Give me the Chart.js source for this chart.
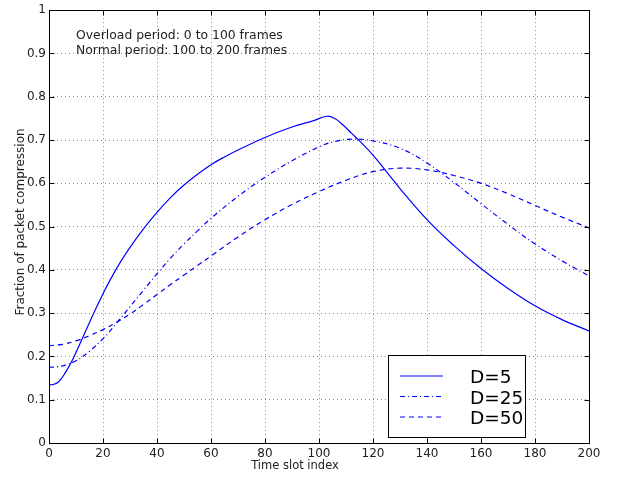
<!DOCTYPE html>
<html><head><meta charset="utf-8">
<script src="https://cdn.jsdelivr.net/npm/chart.js@4/dist/chart.umd.min.js"></script>
<style>html,body{margin:0;padding:0;background:#fff}#wrap{width:617px;height:477px;position:relative}canvas{display:block}</style>
</head><body><div id="wrap"><canvas id="c" width="617" height="477"></canvas></div>
<script>
const xTicks = [0,20,40,60,80,100,120,140,160,180,200];
const yTicks = [0,0.1,0.2,0.3,0.4,0.5,0.6,0.7,0.8,0.9,1];
const seriesNames = ['D=5','D=25','D=50'];

const d5x = [0,1.5,3.5,6,9,12,16,20,25,30,35,40,45,50,55,60,65,70,80,90,98,103,106,109,112,115,120,130,140,150,160,170,180,190,200];
const d5y = [0.135,0.135,0.141,0.162,0.196,0.237,0.292,0.345,0.403,0.452,0.495,0.533,0.567,0.596,0.621,0.643,0.661,0.677,0.706,0.730,0.745,0.755,0.749,0.734,0.716,0.698,0.665,0.588,0.516,0.456,0.403,0.357,0.317,0.285,0.259];

const d25x = [0,3,6,10,15,20,25,30,35,40,45,50,55,60,70,80,90,100,106,113,120,130,140,150,160,170,180,190,200];
const d25y = [0.175,0.176,0.180,0.190,0.212,0.241,0.277,0.315,0.353,0.391,0.427,0.460,0.490,0.519,0.570,0.614,0.652,0.684,0.697,0.702,0.698,0.681,0.647,0.602,0.553,0.505,0.460,0.421,0.386];

const d50x = [0,5,10,15,20,25,30,35,40,45,50,55,60,70,80,90,100,110,120,130,140,150,160,170,180,190,200];
const d50y = [0.225,0.228,0.236,0.248,0.262,0.279,0.298,0.320,0.343,0.366,0.388,0.410,0.432,0.476,0.516,0.551,0.581,0.607,0.627,0.635,0.631,0.618,0.600,0.576,0.549,0.522,0.497];

const pts = (xs, ys) => xs.map((x, i) => ({x, y: ys[i]}));
const BLUE = '#0000ff';
const styles = [[], [5,3,1,3], [5,4]];
const FONT = '"DejaVu Sans", Verdana, sans-serif';

const framePlugin = {
  id: 'frame',
  afterDraw(chart) {
    const {ctx, chartArea: a, scales} = chart;
    const L = Math.round(a.left) + 0.5, R = Math.round(a.right) + 0.5;
    const T = Math.round(a.top) + 0.5, B = Math.round(a.bottom) + 0.5;
    ctx.save();
    ctx.strokeStyle = '#000';
    ctx.lineWidth = 1;
    ctx.setLineDash([]);
    ctx.strokeRect(L, T, R - L, B - T);
    const tl = 5;
    ctx.beginPath();
    xTicks.forEach(v => {
      const px = Math.round(scales.x.getPixelForValue(v)) + 0.5;
      ctx.moveTo(px, B); ctx.lineTo(px, B - tl);
      ctx.moveTo(px, T); ctx.lineTo(px, T + tl);
    });
    yTicks.forEach(v => {
      const py = Math.round(scales.y.getPixelForValue(v)) + 0.5;
      ctx.moveTo(L, py); ctx.lineTo(L + tl, py);
      ctx.moveTo(R, py); ctx.lineTo(R - tl, py);
    });
    ctx.stroke();

    // annotation text
    ctx.fillStyle = '#222';
    ctx.font = '12.4px ' + FONT;
    ctx.textAlign = 'left';
    ctx.textBaseline = 'alphabetic';
    ctx.fillText('Overload period: 0 to 100 frames', 76, 38.5);
    ctx.fillText('Normal period: 100 to 200 frames', 76, 54);

    // axis titles
    ctx.font = '11.5px ' + FONT;
    ctx.textAlign = 'center';
    ctx.fillText('Time slot index', 295, 468.5);
    ctx.font = '12px ' + FONT;
    ctx.save();
    ctx.translate(24, 222);
    ctx.rotate(-Math.PI / 2);
    ctx.fillText('Fraction of packet compression', 0, 0);
    ctx.restore();

    // legend
    const bx = 388.5, by = 355.5, bw = 137, bh = 82;
    ctx.fillStyle = '#fff';
    ctx.fillRect(bx, by, bw, bh);
    ctx.strokeStyle = '#000';
    ctx.strokeRect(bx, by, bw, bh);
    const rows = [376, 396.5, 417];
    ctx.font = '18.5px ' + FONT;
    ctx.textAlign = 'left';
    seriesNames.forEach((name, i) => {
      ctx.strokeStyle = BLUE;
      ctx.lineWidth = 1.2;
      ctx.setLineDash(styles[i]);
      ctx.beginPath();
      ctx.moveTo(400, rows[i]); ctx.lineTo(443, rows[i]);
      ctx.stroke();
      ctx.setLineDash([]);
      ctx.fillStyle = '#000';
      ctx.fillText(name, 470, rows[i] + 7);
    });
    ctx.restore();
  }
};

const tickFont = {family: FONT, size: 12};

new Chart(document.getElementById('c'), {
  type: 'line',
  data: {
    datasets: [
      {label: seriesNames[0], data: pts(d5x, d5y), borderDash: styles[0]},
      {label: seriesNames[1], data: pts(d25x, d25y), borderDash: styles[1]},
      {label: seriesNames[2], data: pts(d50x, d50y), borderDash: styles[2]}
    ].map(d => Object.assign(d, {borderColor: BLUE, borderWidth: 1.2, pointRadius: 0, fill: false, tension: 0.4}))
  },
  options: {
    responsive: false,
    animation: false,
    devicePixelRatio: 1,
    layout: {padding: {top: 10, right: 28, bottom: 0, left: 0}},
    plugins: {legend: {display: false}, tooltip: {enabled: false}},
    scales: {
      x: {
        type: 'linear', min: 0, max: 200,
        afterBuildTicks: s => { s.ticks = xTicks.map(v => ({value: v})); },
        afterFit: s => { s.height = 34; },
        ticks: {color: '#222', font: tickFont, padding: 4, maxRotation: 0, autoSkip: false,
                callback: v => String(Number(v.toFixed(1)))},
        grid: {color: '#8a8a8a', lineWidth: 1, drawTicks: false},
        border: {display: false, dash: [1, 3]}
      },
      y: {
        type: 'linear', min: 0, max: 1,
        afterBuildTicks: s => { s.ticks = yTicks.map(v => ({value: v})); },
        afterFit: s => { s.width = 49; },
        ticks: {color: '#222', font: tickFont, padding: 3,
                callback: v => String(Number(v.toFixed(1)))},
        grid: {color: '#8a8a8a', lineWidth: 1, drawTicks: false},
        border: {display: false, dash: [1, 3]}
      }
    }
  },
  plugins: [framePlugin]
});
</script>
</body></html>
